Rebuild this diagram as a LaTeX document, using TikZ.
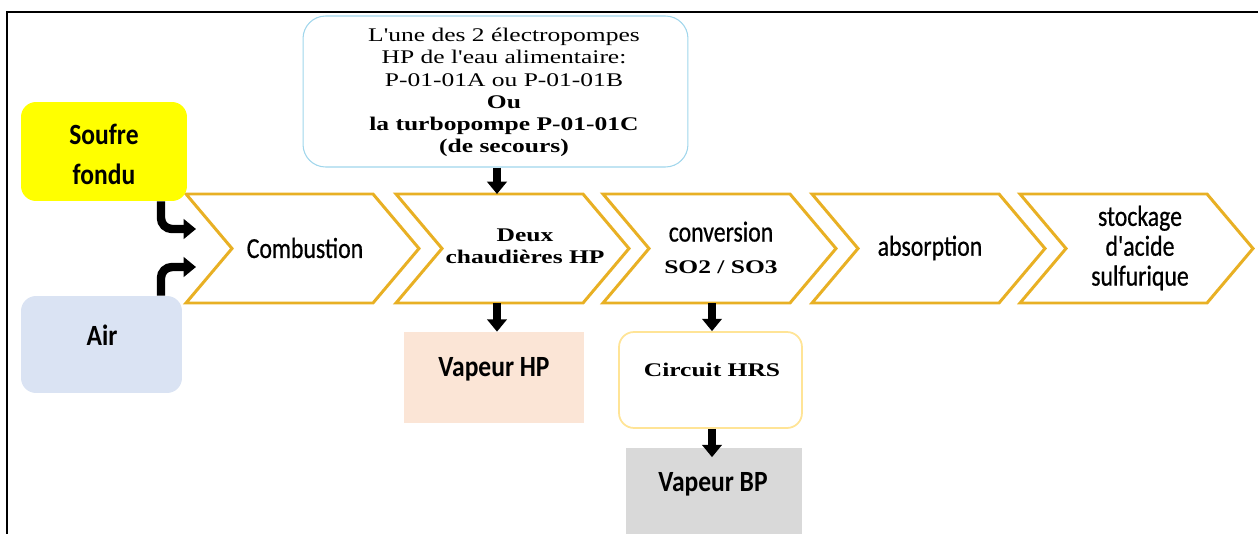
\documentclass[tikz,border=0pt]{standalone}
\usepackage{fontspec}
\setmainfont{Liberation Serif}
\newfontfamily\calib[FakeStretch=0.87]{Carlito}
\newfontfamily\calibstep[FakeStretch=0.82,FakeBold=0.6]{Carlito}
\newfontfamily\wserif[FakeStretch=1.32]{Liberation Serif}
\usetikzlibrary{arrows.meta,calc}

\definecolor{chevgold}{RGB}{232,176,36}
\definecolor{pumpedge}{RGB}{160,214,236}
\definecolor{hrsedge}{RGB}{255,228,150}
\definecolor{soufrefill}{RGB}{255,255,0}
\definecolor{airfill}{RGB}{218,227,243}
\definecolor{hpfill}{RGB}{251,229,214}
\definecolor{bpfill}{RGB}{217,217,217}

\tikzset{
  chev/.style={draw=chevgold, line width=1.7pt, line join=miter, fill=white},
  chevtxt/.style={font=\calibstep\fontsize{16.5}{17}\selectfont, align=center, inner sep=0pt},
  sertxt/.style={font=\wserif\fontsize{11}{12.6}\selectfont, align=center, inner sep=0pt},
  serbold/.style={font=\wserif\bfseries\fontsize{11}{12.6}\selectfont, align=center, inner sep=0pt},
  boxtxt/.style={font=\calib\bfseries\fontsize{16.7}{22.7}\selectfont, align=center, inner sep=0pt},
  plainbox/.style={inner sep=0pt, draw=none},
  flow/.style={line width=4.8pt, -{Triangle[width=11pt,length=7pt]}},
}

\begin{document}
\begin{tikzpicture}[x=0.02cm, y=-0.02cm]
\useasboundingbox (0,0) rectangle (1258,534);
\begin{scope}
\clip (0,0) rectangle (1258,534);

% outer frame
\draw[line width=1.2pt] (7,540) -- (7,12) -- (1262,12);

% process chevrons
\foreach \x in {186,396,603,812,1020}
  \draw[chev] (\x,194) -- ++(187,0) -- ++(46,54.5) -- ++(-46,54.5)
    -- ++(-187,0) -- ++(46,-54.5) -- cycle;

\coordinate (ch2n) at (497,194);
\coordinate (ch2s) at (497,303);
\coordinate (ch3s) at (712,303);

\node[chevtxt] (c1) at (305,248) {Combustion};
\node[serbold] (c2) at (525,246) {Deux\\chaudières HP};
\node[chevtxt] (c3) at (721,247.5) {conversion\\[1pt]{\wserif\bfseries\fontsize{11}{12.6}\selectfont SO2 / SO3}};
\node[chevtxt] (c4) at (930,248) {absorption};
\node[chevtxt] (c5) at (1140,248) {stockage\\d'acide\\sulfurique};

% feed boxes
\node[plainbox, fill=soufrefill, rounded corners=0.3cm,
      minimum width=3.32cm, minimum height=1.98cm] (soufre) at (104,151.5) {};
\node[boxtxt] (soufretxt) at (104,154) {Soufre\\fondu};
\node[plainbox, fill=airfill, rounded corners=0.3cm,
      minimum width=3.22cm, minimum height=1.94cm] (air) at (101.5,344.5) {};
\node[boxtxt] (airtxt) at (102,335) {Air};

% feed-water pumps
\node[plainbox, draw=pumpedge, line width=0.6pt, fill=white, rounded corners=0.45cm,
      minimum width=7.7cm, minimum height=3.02cm] (pump) at (495.5,91.5) {};
\node[sertxt] (pumptxt) at (504,92.5) {L'une des 2 électropompes\\
  HP de l'eau alimentaire:\\
  P-01-01A ou P-01-01B\\
  \textbf{Ou}\hspace*{0.55cm}\\
  \textbf{la turbopompe P-01-01C}\\
  \textbf{(de secours)}};

% steam outputs
\node[plainbox, fill=hpfill, minimum width=3.6cm, minimum height=1.82cm] (vhp) at (494,377.5) {};
\node[boxtxt] (vhptxt) at (494,369) {Vapeur HP};
\node[plainbox, draw=hrsedge, line width=1pt, fill=white, rounded corners=0.3cm,
      minimum width=3.66cm, minimum height=1.92cm] (hrs) at (710.5,380) {};
\node[serbold] (hrstxt) at (712,370) {Circuit HRS};
\node[plainbox, fill=bpfill, minimum width=3.52cm, minimum height=1.9cm] (vbp) at (714,495) {};
\node[boxtxt] (vbptxt) at (713,484) {Vapeur BP};

% connectors
\coordinate (sfin) at (196,229);
\coordinate (afin) at (196,267);
\draw[flow, rounded corners=0.22cm] ([xshift=1.14cm]soufre.south) |- (sfin);
\draw[flow, rounded corners=0.22cm] ([xshift=1.19cm]air.north) |- (afin);
\draw[flow] (pump.south -| ch2n) -- (ch2n);
\draw[flow] (ch2s) -- (ch2s |- vhp.north);
\draw[flow] (ch3s) -- (ch3s |- hrs.north);
\draw[flow] (hrs.south -| ch3s) -- ([yshift=-0.2cm]vbp.north -| ch3s);
\end{scope}
\end{tikzpicture}
\end{document}
